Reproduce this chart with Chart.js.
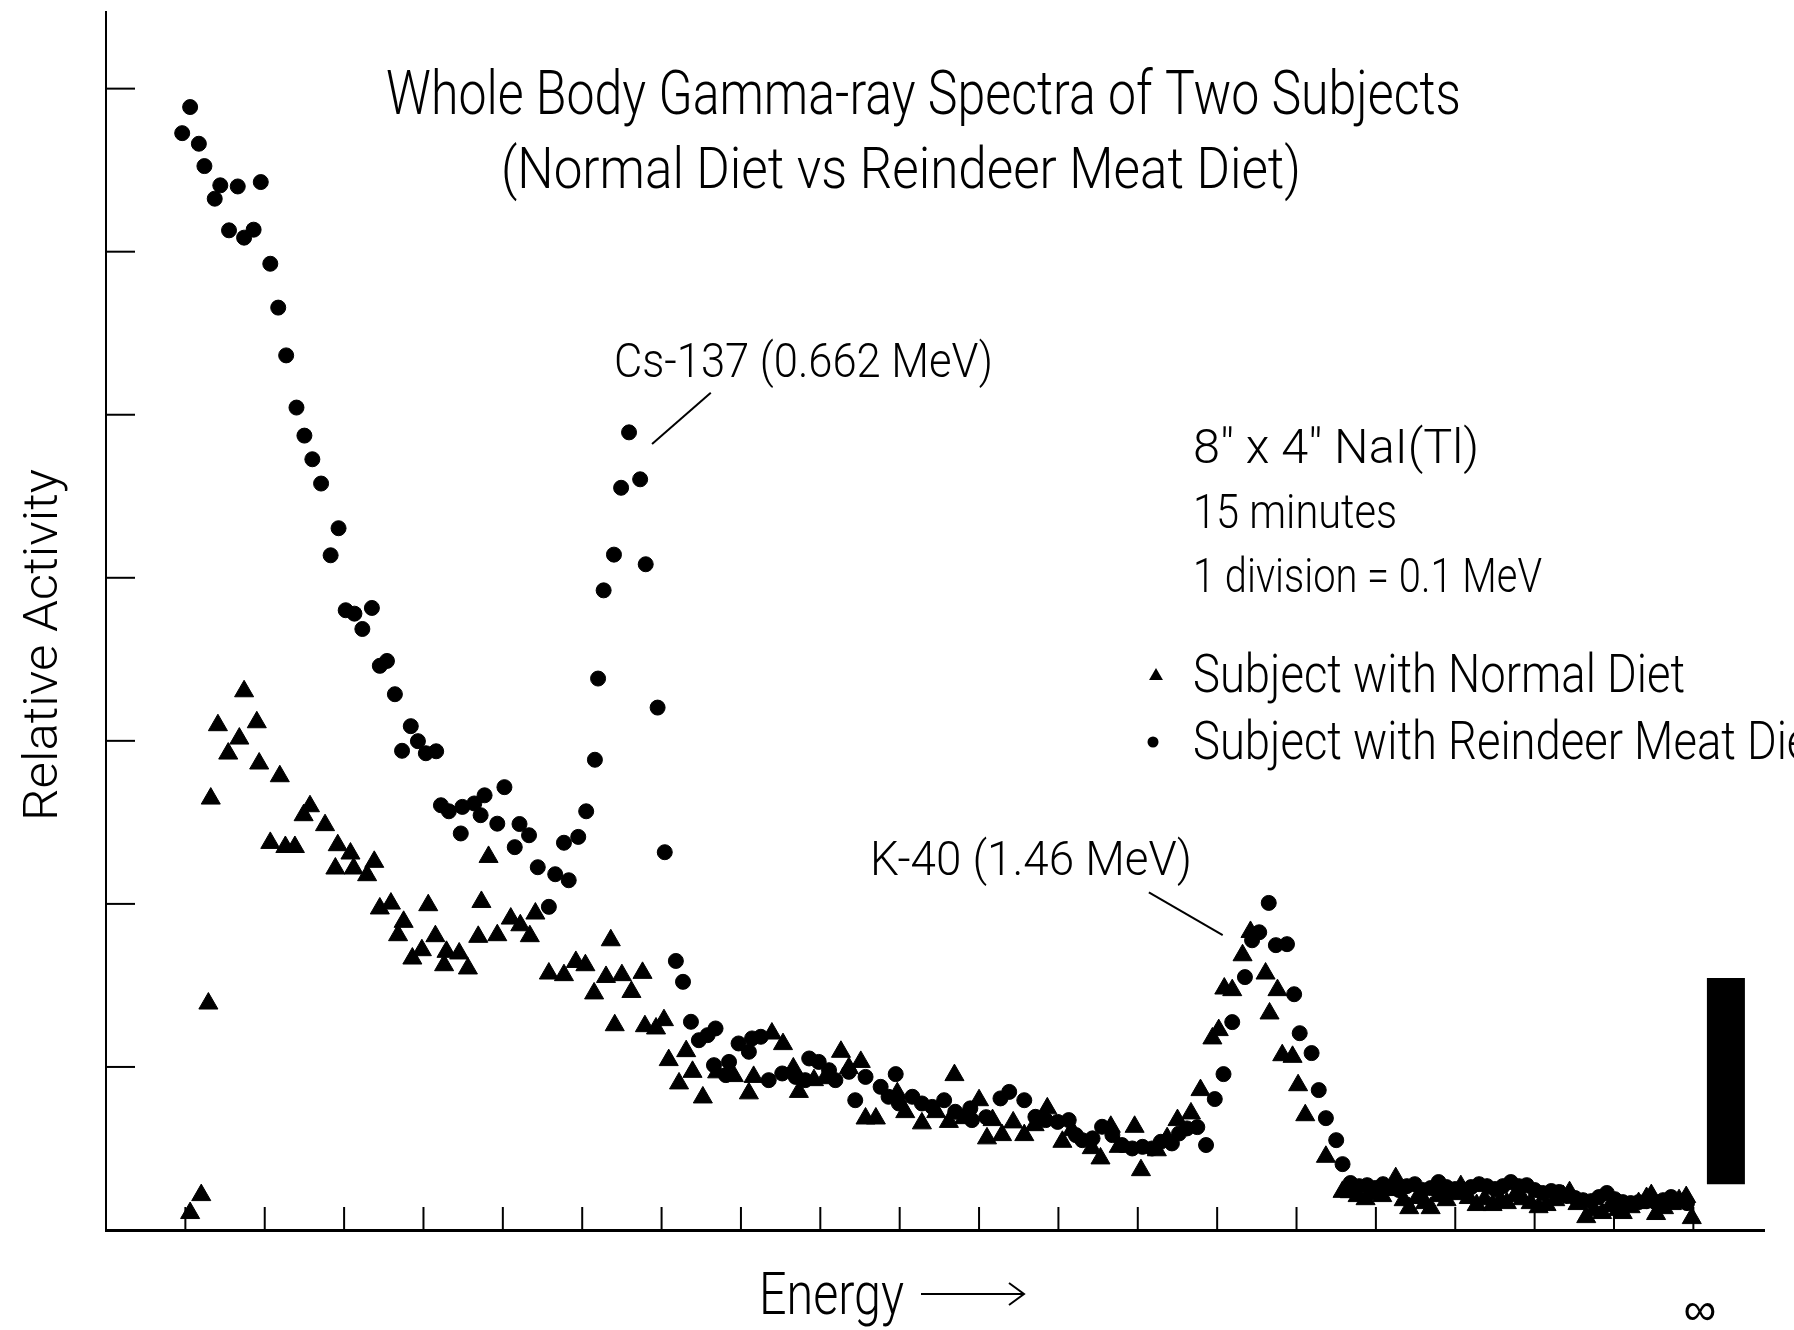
<!DOCTYPE html>
<html>
<head>
<meta charset="utf-8">
<script src="https://cdn.jsdelivr.net/npm/chart.js@4.4.0/dist/chart.umd.min.js"></script>
<style>
html,body{margin:0;padding:0;background:#fff;overflow:hidden}
canvas{display:block}
</style>
</head>
<body>
<canvas id="c" width="1794" height="1330" style="width:1794px;height:1330px"></canvas>
<script>
// ---------------- data (energy in MeV, activity in axis divisions) ----------------
const seriesLabels = ['Subject with Normal Diet', 'Subject with Reindeer Meat Diet'];

const normalEnergy = [
  0.106, 0.120, 0.129, 0.132, 0.141, 0.154, 0.168, 0.174, 0.190, 0.193,
  0.207, 0.219, 0.226, 0.238, 0.249, 0.257, 0.276, 0.289, 0.292, 0.308,
  0.312, 0.329, 0.338, 0.345, 0.359, 0.368, 0.375, 0.386, 0.398, 0.406,
  0.415, 0.426, 0.429, 0.445, 0.456, 0.469, 0.473, 0.482, 0.493, 0.510,
  0.522, 0.534, 0.541, 0.558, 0.577, 0.592, 0.604, 0.615, 0.630, 0.636,
  0.641, 0.650, 0.662, 0.676, 0.679, 0.693, 0.703, 0.709, 0.722, 0.731,
  0.739, 0.752, 0.770, 0.791, 0.810, 0.816, 0.839, 0.853, 0.866, 0.873,
  0.892, 0.906, 0.926, 0.936, 0.951, 0.957, 0.970, 0.997, 1.007, 1.028,
  1.046, 1.062, 1.069, 1.081, 1.100, 1.110, 1.117, 1.129, 1.143, 1.157,
  1.170, 1.186, 1.205, 1.217, 1.242, 1.253, 1.266, 1.276, 1.296, 1.304,
  1.324, 1.337, 1.350, 1.367, 1.379, 1.394, 1.402, 1.409, 1.419, 1.432,
  1.442, 1.461, 1.466, 1.476, 1.482, 1.495, 1.502, 1.511, 1.537, 1.558,
  1.567, 1.577, 1.587, 1.597, 1.608, 1.618, 1.625, 1.635, 1.642, 1.652,
  1.662, 1.669, 1.679, 1.689, 1.700, 1.707, 1.717, 1.727, 1.737, 1.747,
  1.757, 1.765, 1.775, 1.785, 1.795, 1.805, 1.815, 1.826, 1.836, 1.844,
  1.854, 1.865, 1.875, 1.885, 1.895, 1.905, 1.911, 1.921, 1.931, 1.941,
  1.947, 1.953, 1.963, 1.973, 1.982, 1.991, 1.998
];
const normalActivity = [
  0.104, 0.214, 1.389, 2.646, 3.096, 2.922, 3.014, 3.304, 3.114, 2.861,
  2.374, 2.783, 2.349, 2.349, 2.544, 2.599, 2.483, 2.217, 2.360, 2.309,
  2.217, 2.176, 2.258, 1.972, 2.002, 1.808, 1.890, 1.665, 1.716, 1.992,
  1.802, 1.624, 1.706, 1.696, 1.604, 1.798, 2.012, 2.288, 1.808, 1.910,
  1.869, 1.802, 1.941, 1.573, 1.563, 1.644, 1.624, 1.451, 1.552, 1.777,
  1.256, 1.563, 1.460, 1.577, 1.250, 1.236, 1.287, 1.042, 0.899, 1.097,
  0.970, 0.813, 0.967, 0.944, 0.838, 0.939, 1.205, 1.140, 0.991, 0.847,
  0.919, 0.931, 1.093, 0.993, 1.031, 0.684, 0.684, 0.839, 0.723, 0.654,
  0.723, 0.663, 0.950, 0.686, 0.796, 0.562, 0.674, 0.582, 0.660, 0.582,
  0.643, 0.746, 0.541, 0.612, 0.502, 0.439, 0.633, 0.510, 0.633, 0.367,
  0.489, 0.563, 0.674, 0.715, 0.858, 1.175, 1.226, 1.481, 1.471, 1.685,
  1.828, 1.573, 1.328, 1.471, 1.072, 1.062, 0.888, 0.704, 0.449, 0.234,
  0.232, 0.208, 0.189, 0.220, 0.208, 0.245, 0.318, 0.183, 0.134, 0.196,
  0.165, 0.134, 0.208, 0.183, 0.220, 0.269, 0.196, 0.153, 0.189, 0.153,
  0.183, 0.165, 0.208, 0.189, 0.165, 0.140, 0.153, 0.183, 0.208, 0.232,
  0.159, 0.079, 0.122, 0.104, 0.147, 0.122, 0.104, 0.140, 0.165, 0.196,
  0.214, 0.098, 0.134, 0.159, 0.183, 0.202, 0.073
];

const reindeerEnergy = [
  0.096, 0.106, 0.117, 0.124, 0.137, 0.144, 0.155, 0.166, 0.174, 0.186,
  0.195, 0.207, 0.217, 0.227, 0.240, 0.250, 0.260, 0.271, 0.283, 0.293,
  0.302, 0.313, 0.323, 0.335, 0.345, 0.354, 0.364, 0.373, 0.384, 0.393,
  0.403, 0.416, 0.422, 0.432, 0.447, 0.449, 0.464, 0.472, 0.477, 0.493,
  0.502, 0.515, 0.521, 0.533, 0.544, 0.558, 0.566, 0.577, 0.583, 0.595,
  0.605, 0.616, 0.620, 0.627, 0.640, 0.649, 0.659, 0.673, 0.680, 0.695,
  0.704, 0.718, 0.727, 0.737, 0.747, 0.758, 0.766, 0.768, 0.781, 0.785,
  0.797, 0.810, 0.814, 0.825, 0.835, 0.852, 0.869, 0.881, 0.886, 0.898,
  0.911, 0.919, 0.936, 0.944, 0.957, 0.976, 0.986, 0.995, 0.999, 1.016,
  1.028, 1.041, 1.056, 1.070, 1.089, 1.091, 1.109, 1.127, 1.138, 1.157,
  1.171, 1.184, 1.199, 1.213, 1.222, 1.230, 1.243, 1.255, 1.268, 1.280,
  1.293, 1.306, 1.318, 1.329, 1.343, 1.352, 1.362, 1.375, 1.386, 1.397,
  1.408, 1.419, 1.435, 1.444, 1.453, 1.465, 1.474, 1.488, 1.497, 1.504,
  1.519, 1.528, 1.537, 1.550, 1.558,
  1.568, 1.579, 1.589, 1.599, 1.609, 1.619, 1.629, 1.639, 1.649, 1.659,
  1.669, 1.679, 1.689, 1.700, 1.710, 1.720, 1.730, 1.740, 1.750, 1.760,
  1.770, 1.780, 1.790, 1.800, 1.810, 1.821, 1.831, 1.841, 1.851, 1.861,
  1.871, 1.881, 1.891, 1.901, 1.911, 1.921, 1.931, 1.941, 1.952, 1.962,
  1.972, 1.982, 1.992
];
const reindeerActivity = [
  6.727, 6.887, 6.662, 6.525, 6.325, 6.407, 6.131, 6.400, 6.086, 6.135,
  6.427, 5.926, 5.657, 5.364, 5.044, 4.872, 4.727, 4.578, 4.138, 4.304,
  3.801, 3.780, 3.686, 3.815, 3.460, 3.490, 3.286, 2.939, 3.090, 2.998,
  2.924, 2.936, 2.605, 2.568, 2.432, 2.595, 2.616, 2.544, 2.666, 2.492,
  2.716, 2.348, 2.490, 2.421, 2.225, 1.982, 2.182, 2.375, 2.145, 2.411,
  2.568, 2.884, 3.382, 3.923, 4.142, 4.552, 4.892, 4.604, 4.083, 3.204,
  2.317, 1.650, 1.522, 1.277, 1.164, 1.195, 1.011, 1.236, 0.950, 1.031,
  1.144, 1.093, 1.175, 1.185, 0.919, 0.960, 0.939, 0.919, 1.052, 1.031,
  0.980, 0.919, 0.970, 0.796, 0.939, 0.878, 0.817, 0.956, 0.776, 0.817,
  0.776, 0.755, 0.796, 0.725, 0.746, 0.674, 0.692, 0.807, 0.847, 0.796,
  0.694, 0.674, 0.663, 0.674, 0.582, 0.551, 0.562, 0.633, 0.582, 0.521,
  0.500, 0.510, 0.500, 0.541, 0.531, 0.592, 0.623, 0.631, 0.521, 0.803,
  0.956, 1.275, 1.551, 1.777, 1.826, 2.006, 1.747, 1.753, 1.446, 1.207,
  1.085, 0.858, 0.686, 0.551, 0.404,
  0.288, 0.269, 0.275, 0.257, 0.281, 0.263, 0.245, 0.269, 0.281, 0.245,
  0.257, 0.294, 0.263, 0.251, 0.245, 0.263, 0.281, 0.269, 0.251, 0.269,
  0.294, 0.269, 0.275, 0.245, 0.227, 0.239, 0.233, 0.208, 0.196, 0.183,
  0.177, 0.202, 0.227, 0.189, 0.171, 0.165, 0.171, 0.177, 0.171, 0.183,
  0.202, 0.177, 0.165
];

// overflow ("infinity") channel bar
const overflowEnergy = [2.041, 2.041];
const overflowActivity = [0.28, 1.545];

// axis tick marks (unlabelled): 1 division = 0.1 MeV
const xTickValues = [0.1,0.2,0.3,0.4,0.5,0.6,0.7,0.8,0.9,1.0,1.1,1.2,1.3,1.4,1.5,1.6,1.7,1.8,1.9,2.0];
const yTickValues = [1,2,3,4,5,6,7];

const titleLines = ['Whole Body Gamma-ray Spectra of Two Subjects', '(Normal Diet vs Reindeer Meat Diet)'];
const noteLines = ['8" x 4" NaI(Tl)', '15 minutes', '1 division = 0.1 MeV'];
const peakLabels = ['Cs-137 (0.662 MeV)', 'K-40 (1.46 MeV)'];
const axisTitles = {x: 'Energy', y: 'Relative Activity', overflow: '\u221E'};

// ---------------- build ----------------
const toPoints = (xs, ys) => xs.map((v, i) => ({x: v, y: ys[i]}));
const FONT = 'Roboto, "Liberation Sans", sans-serif';

function fitText(ctx, text, x, y, size, width, sx) {
  ctx.save();
  ctx.font = `300 ${size}px ${FONT}`;
  const w = ctx.measureText(text).width;
  const s = sx || (width / w);
  ctx.translate(x, y);
  ctx.scale(s, 1);
  ctx.textAlign = 'left';
  ctx.textBaseline = 'alphabetic';
  ctx.fillStyle = '#000';
  ctx.fillText(text, 0, 0);
  ctx.restore();
  return s;
}

const annotate = {
  id: 'annotate',
  afterDatasetsDraw(chart) {
    const {ctx, chartArea, scales: {x, y}} = chart;
    ctx.save();
    ctx.strokeStyle = '#000';
    ctx.lineWidth = 2;
    // inward tick marks
    xTickValues.forEach(v => {
      const px = x.getPixelForValue(v);
      ctx.beginPath(); ctx.moveTo(px, chartArea.bottom); ctx.lineTo(px, chartArea.bottom - 23); ctx.stroke();
    });
    yTickValues.forEach(v => {
      const py = y.getPixelForValue(v);
      ctx.beginPath(); ctx.moveTo(chartArea.left, py); ctx.lineTo(chartArea.left + 29, py); ctx.stroke();
    });
    // leader lines
    ctx.lineWidth = 2;
    ctx.beginPath();
    ctx.moveTo(x.getPixelForValue(0.762), y.getPixelForValue(5.135));
    ctx.lineTo(x.getPixelForValue(0.688), y.getPixelForValue(4.82));
    ctx.stroke();
    ctx.beginPath();
    ctx.moveTo(x.getPixelForValue(1.314), y.getPixelForValue(2.071));
    ctx.lineTo(x.getPixelForValue(1.407), y.getPixelForValue(1.808));
    ctx.stroke();

    // titles
    fitText(ctx, titleLines[0], 386, 114, 61, 1075);
    fitText(ctx, titleLines[1], 501, 188, 57, 800);
    // peak labels
    fitText(ctx, peakLabels[0], 614, 377, 48, 379);
    fitText(ctx, peakLabels[1], 870, 875, 48, 322);
    // notes
    fitText(ctx, noteLines[0], 1193, 463, 48, 286);
    fitText(ctx, noteLines[1], 1193, 528, 48, 204);
    fitText(ctx, noteLines[2], 1193, 592, 48, 349);
    // legend
    const ds = chart.data.datasets;
    ctx.fillStyle = '#000';
    const tx = 1156, ty = 676, tr = 8;
    ctx.beginPath();
    ctx.moveTo(tx, ty - tr);
    ctx.lineTo(tx + tr * 0.866, ty + tr / 2);
    ctx.lineTo(tx - tr * 0.866, ty + tr / 2);
    ctx.closePath(); ctx.fill();
    const s1 = fitText(ctx, ds[0].label, 1193, 692, 53, 492);
    ctx.beginPath(); ctx.arc(1153, 742, 5.5, 0, Math.PI * 2); ctx.fill();
    fitText(ctx, ds[1].label, 1193, 759, 53, 0, s1);
    // axis titles
    fitText(ctx, axisTitles.x, 759, 1314, 59, 145);
    ctx.lineWidth = 2;
    ctx.beginPath(); ctx.moveTo(921, 1294); ctx.lineTo(1024, 1294); ctx.stroke();
    ctx.beginPath(); ctx.moveTo(1009, 1283); ctx.lineTo(1024, 1294); ctx.lineTo(1009, 1305); ctx.stroke();
    ctx.save();
    ctx.translate(57, 821);
    ctx.rotate(-Math.PI / 2);
    fitText(ctx, axisTitles.y, 0, 0, 48, 352);
    ctx.restore();
    ctx.font = '300 46px "DejaVu Sans", sans-serif';
    ctx.textAlign = 'center'; ctx.textBaseline = 'middle';
    ctx.fillText(axisTitles.overflow, 1700, 1313);
    ctx.restore();
  }
};

new Chart(document.getElementById('c'), {
  type: 'scatter',
  data: {
    datasets: [
      {
        label: seriesLabels[0],
        data: toPoints(normalEnergy, normalActivity),
        pointStyle: 'triangle',
        pointRadius: 11,
        backgroundColor: '#000',
        borderColor: '#000',
        borderWidth: 1
      },
      {
        label: seriesLabels[1],
        data: toPoints(reindeerEnergy, reindeerActivity),
        pointStyle: 'circle',
        pointRadius: 7.5,
        backgroundColor: '#000',
        borderColor: '#000',
        borderWidth: 1
      },
      {
        type: 'line',
        label: 'overflow',
        data: toPoints(overflowEnergy, overflowActivity),
        showLine: true,
        borderColor: '#000',
        borderWidth: 38,
        borderCapStyle: 'butt',
        pointRadius: 0
      }
    ]
  },
  options: {
    responsive: false,
    animation: false,
    devicePixelRatio: 1,
    layout: {padding: {left: 106, right: 30, top: 11, bottom: 100}},
    plugins: {legend: {display: false}, tooltip: {enabled: false}, title: {display: false}},
    scales: {
      x: {type: 'linear', min: 0, max: 2.089, ticks: {display: false},
          grid: {display: false, drawTicks: false, tickLength: 0},
          border: {display: true, color: '#000', width: 3}},
      y: {type: 'linear', min: 0, max: 7.47, ticks: {display: false},
          grid: {display: false, drawTicks: false, tickLength: 0},
          border: {display: true, color: '#000', width: 2}}
    }
  },
  plugins: [annotate]
});
</script>
</body>
</html>
